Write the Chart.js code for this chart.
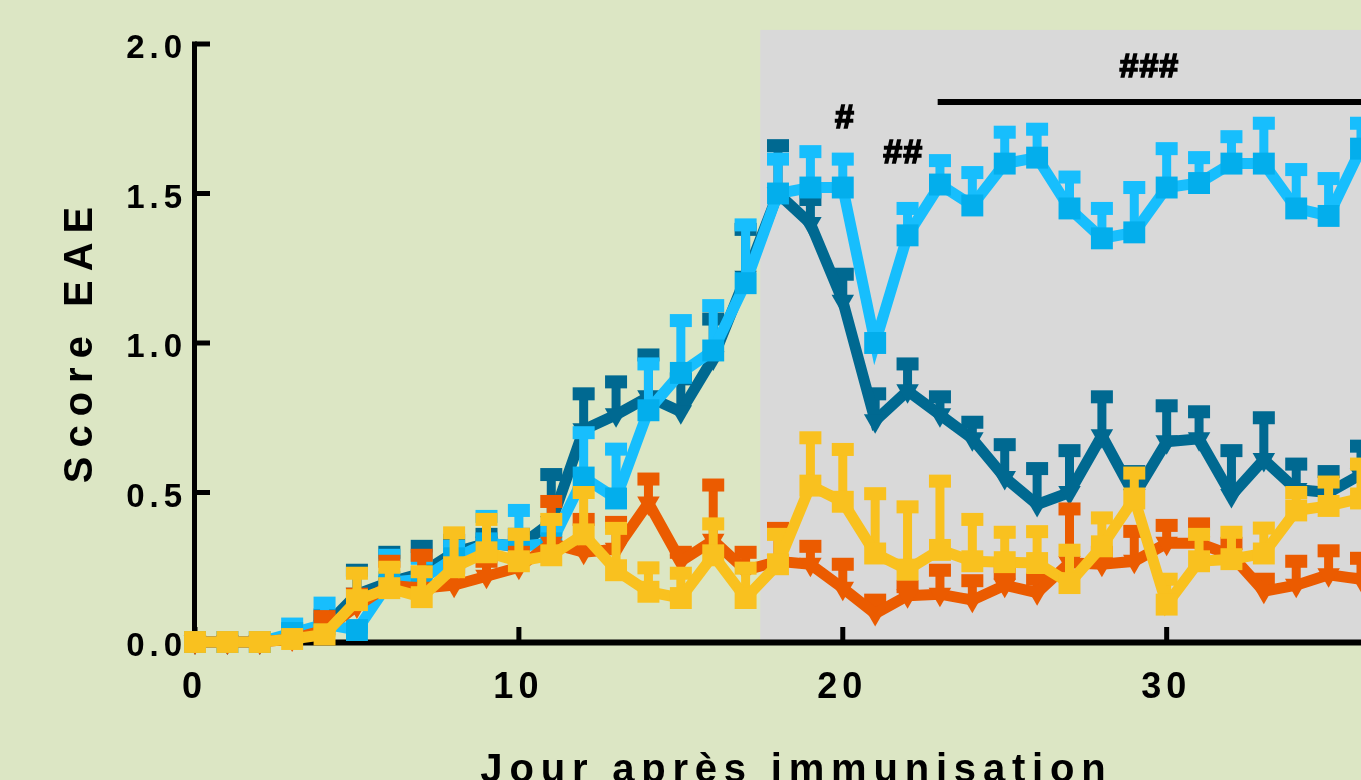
<!DOCTYPE html>
<html>
<head>
<meta charset="utf-8">
<script src="https://cdn.jsdelivr.net/npm/chart.js@4/dist/chart.umd.min.js"></script>
<style>
  html, body { margin: 0; padding: 0; background: #dce6c4; overflow: hidden; }
  #wrap { width: 1361px; height: 780px; position: relative; }
  canvas { display: block; }
</style>
</head>
<body>
<div id="wrap"><canvas id="chart"></canvas></div>
<script>
    // ==================== DATA ====================
    const days = [0,1,2,3,4,5,6,7,8,9,10,11,12,13,14,15,16,17,18,19,20,21,22,23,24,25,26,27,28,29,30,31,32,33,34,35,36];

    const scoreDark = [0,0,0,0.02,0.05,0.16,0.20,0.23,0.30,0.33,0.32,0.40,0.71,0.76,0.82,0.77,0.95,1.22,1.50,1.40,1.14,0.74,0.84,0.76,0.68,0.55,0.46,0.50,0.69,0.49,0.67,0.68,0.49,0.61,0.51,0.50,0.56];
    const semDark = [0,0,0,0.02,0.04,0.08,0.10,0.09,0.04,0.03,0.04,0.16,0.12,0.11,0.14,0.11,0.13,0.16,0.16,0.08,0.09,0.09,0.09,0.06,0.055,0.11,0.12,0.14,0.13,0.08,0.12,0.09,0.15,0.14,0.085,0.07,0.095];

    const scoreLight = [0,0,0,0.03,0.06,0.04,0.20,0.21,0.28,0.33,0.32,0.33,0.55,0.48,0.775,0.90,0.975,1.20,1.50,1.52,1.52,1.00,1.36,1.53,1.46,1.60,1.62,1.45,1.35,1.37,1.52,1.535,1.60,1.60,1.45,1.425,1.65];
    const semLight = [0,0,0,0.03,0.07,0.01,0.09,0.07,0.04,0.09,0.12,0.05,0.15,0.165,0.155,0.175,0.15,0.195,0.115,0.12,0.095,0,0.09,0.08,0.11,0.105,0.095,0.105,0.10,0.15,0.13,0.085,0.09,0.135,0.13,0.125,0.085];

    const scoreOrange = [0,0,0,0.01,0.04,0.12,0.19,0.18,0.19,0.22,0.25,0.33,0.30,0.31,0.465,0.27,0.34,0.24,0.27,0.26,0.18,0.095,0.155,0.16,0.14,0.19,0.165,0.265,0.26,0.27,0.33,0.33,0.29,0.17,0.19,0.225,0.21];
    const semOrange = [0,0,0,0,0.045,0.04,0.08,0.11,0.06,0.05,0.05,0.14,0.11,0.09,0.08,0.03,0.185,0.06,0.11,0.06,0.08,0.045,0.03,0.08,0.065,0.04,0.045,0.18,0.04,0.10,0.06,0.065,0.04,0.04,0.08,0.08,0.07];

    const scoreYellow = [0,0,0,0.01,0.025,0.14,0.18,0.15,0.25,0.30,0.27,0.29,0.36,0.24,0.168,0.147,0.29,0.147,0.26,0.523,0.469,0.296,0.242,0.308,0.27,0.267,0.264,0.197,0.32,0.48,0.125,0.27,0.277,0.296,0.44,0.455,0.48];
    const semYellow = [0,0,0,0,0.015,0.09,0.07,0.085,0.115,0.11,0.09,0.12,0.14,0.14,0.08,0.083,0.105,0.10,0.10,0.16,0.175,0.20,0.21,0.23,0.14,0.10,0.105,0.11,0.095,0.085,0.085,0.09,0.09,0.085,0.06,0.08,0.115];

    const xTicks = [0, 10, 20, 30];
    const yTicks = [0, 0.5, 1.0, 1.5, 2.0];

    // shaded period + significance marks (data units)
    const shadeFrom = 17.45, shadeTop = 2.047;
    const sigLineFrom = 22.93, sigLineY = 1.806;
    const sigMarks = [
        { text: '#', x: 20.05, y: 1.75 },
        { text: '##', x: 21.85, y: 1.635 },
        { text: '###', x: 29.45, y: 1.92 }
    ];

    const BG = '#dce6c4';
    const FONT = '"Liberation Sans", Arial, sans-serif';

    // draw text char by char with extra spacing
    function spacedText(ctx, str, x, y, spacing, align, heavy) {
        const widths = [...str].map(c => ctx.measureText(c).width);
        const total = widths.reduce((a, b) => a + b, 0) + spacing * (str.length - 1);
        let cx = x;
        if (align === 'center') cx = x - total / 2;
        if (align === 'right') cx = x - total;
        ctx.textAlign = 'left';
        [...str].forEach((c, i) => {
            ctx.fillText(c, cx, y);
            if (heavy) ctx.strokeText(c, cx, y);
            cx += widths[i] + spacing;
        });
    }

    function series(label, values, sems, line, point, style) {
        return {
            label: label,
            data: days.map((d, i) => ({ x: d, y: values[i] })),
            sem: sems,
            borderColor: line,
            backgroundColor: point,
            pointBackgroundColor: point,
            borderWidth: 11,
            pointBorderWidth: 0,
            pointStyle: style,
            pointRadius: style === 'rect' ? 15.5 : 13,
            pointRotation: style === 'rect' ? 0 : 180,
            tension: 0,
            clip: false
        };
    }

    // error bars, axes, shading
    const decor = {
        id: 'decor',
        beforeDraw(chart) {
            const { ctx, scales: { x, y } } = chart;
            ctx.save();
            ctx.fillStyle = BG;
            ctx.fillRect(0, 0, chart.width, chart.height);
            const sx = x.getPixelForValue(shadeFrom), sy = y.getPixelForValue(shadeTop);
            ctx.fillStyle = '#d9d9d9';
            ctx.fillRect(sx, sy, chart.width - sx, y.getPixelForValue(0) - sy);
            ctx.restore();
        },
        beforeDatasetsDraw(chart) {
            const { ctx, scales: { x, y } } = chart;
            const x0 = x.getPixelForValue(0), y0 = y.getPixelForValue(0);
            ctx.save();
            ctx.fillStyle = '#000';
            ctx.strokeStyle = '#000';
            // axis lines
            ctx.fillRect(x0 - 3, y.getPixelForValue(2) - 2.5, 5, y0 - y.getPixelForValue(2) + 5);
            ctx.fillRect(x0 - 3, y0 - 2.5, chart.width - x0 + 3, 6);
            // ticks (inward)
            yTicks.forEach(v => ctx.fillRect(x0, y.getPixelForValue(v) - 2.5, 15, 5));
            xTicks.forEach(v => ctx.fillRect(x.getPixelForValue(v) - 2.5, y0 - 15, 5, 15));
            // tick labels
            ctx.font = 'bold 33px ' + FONT;
            ctx.textBaseline = 'middle';
            yTicks.forEach(v => spacedText(ctx, v.toFixed(1), x0 - 13, y.getPixelForValue(v) + 5, 5, 'right'));
            ctx.textBaseline = 'alphabetic';
            ctx.font = 'bold 36px ' + FONT;
            xTicks.forEach(v => spacedText(ctx, String(v), x.getPixelForValue(v) - 3, y0 + 56, 5, 'center'));
            // axis titles
            ctx.font = 'bold 40px ' + FONT;
            spacedText(ctx, 'Jour après immunisation', 793, 782, 6.8, 'center');
            ctx.save();
            ctx.translate(92, 345);
            ctx.rotate(-Math.PI / 2);
            ctx.font = 'bold 40px ' + FONT;
            spacedText(ctx, 'Score EAE', 0, 0, 9, 'center');
            ctx.restore();
            // significance line and marks
            const ly = y.getPixelForValue(sigLineY);
            ctx.fillRect(x.getPixelForValue(sigLineFrom), ly - 3, chart.width, 6);
            ctx.font = 'bold 34px ' + FONT;
            ctx.lineWidth = 1.6;
            ctx.textBaseline = 'middle';
            sigMarks.forEach(m => spacedText(ctx, m.text, x.getPixelForValue(m.x), y.getPixelForValue(m.y), 1, 'center', true));
            ctx.restore();
        },
        beforeDatasetDraw(chart, args) {
            const { ctx, scales: { y } } = chart;
            const ds = chart.data.datasets[args.index];
            ctx.save();
            ctx.fillStyle = ds.borderColor;
            args.meta.data.forEach((pt, i) => {
                const s = ds.sem[i];
                if (!s) return;
                const top = y.getPixelForValue(ds.data[i].y + s);
                ctx.fillRect(pt.x - 4.5, top, 9, pt.y - top);
                ctx.fillRect(pt.x - 11, top - 6.5, 22, 13);
            });
            ctx.restore();
        }
    };

    new Chart(document.getElementById('chart'), {
        type: 'line',
        data: {
            datasets: [
                series('Jaune', scoreYellow, semYellow, '#f9c11f', '#f9c11f', 'rect'),
                series('Orange', scoreOrange, semOrange, '#eb5b00', '#eb5b00', 'triangle'),
                series('Bleu clair', scoreLight, semLight, '#17befd', '#03aeec', 'rect'),
                series('Bleu foncé', scoreDark, semDark, '#006991', '#006991', 'triangle')
            ]
        },
        options: {
            responsive: true,
            maintainAspectRatio: false,
            animation: false,
            events: [],
            layout: { autoPadding: false, padding: { left: 195, right: 0, top: 44, bottom: 138 } },
            scales: {
                x: { type: 'linear', min: 0, max: 36, display: false },
                y: { type: 'linear', min: 0, max: 2, display: false }
            },
            plugins: { legend: { display: false }, tooltip: { enabled: false } }
        },
        plugins: [decor]
    });
</script>
</body>
</html>
